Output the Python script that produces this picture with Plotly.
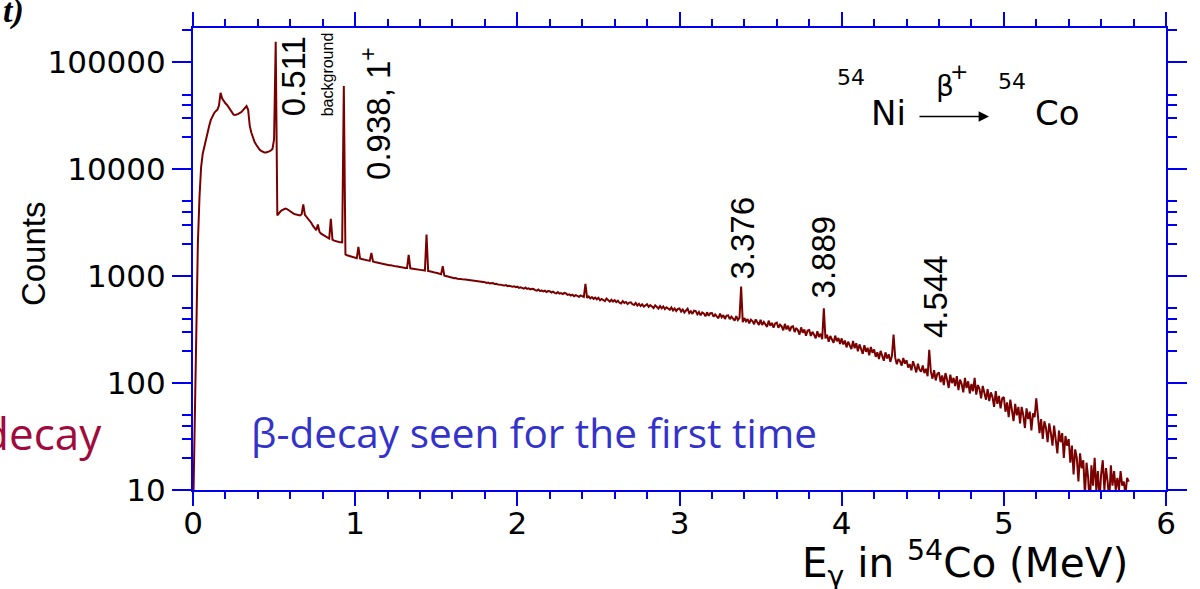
import plotly.graph_objects as go

# ---------------- data ----------------
# gamma-ray counts per 10 keV channel, first channel at 0.00 MeV
channel_start_mev = 0.0
channel_width_mev = 0.01
counts = [
    # 0.00
    5, 40, 600, 2000, 5500, 10500, 14000, 16500, 19000, 22000,
    # 0.10
    25500, 29000, 31500, 33500, 35000, 36000, 39500, 52000, 46000, 43000,
    # 0.20
    41500, 40000, 38000, 35500, 33500, 32500, 32200, 32500, 33000, 33800,
    # 0.30
    34500, 36000, 37500, 39000, 36000, 25500, 22000, 19500, 18000, 17000,
    # 0.40
    16000, 15300, 14900, 14600, 14400, 14400, 14500, 14700, 15000, 15500,
    # 0.50
    19000, 156000, 3700, 3900, 4050, 4150, 4250, 4300, 4250, 4150,
    # 0.60
    4000, 3900, 3850, 3800, 3750, 3700, 3700, 3800, 4700, 3750,
    # 0.70
    3600, 3500, 3350, 3150, 2950, 2800, 2700, 3050, 2600, 2500,
    # 0.80
    2450, 2400, 2350, 2300, 2250, 3450, 2200, 2150, 2120, 2100,
    # 0.90
    2090, 2080, 2070, 60000, 1600, 1570, 1550, 1530, 1510, 1500,
    # 1.00
    1490, 1472, 1880, 1462, 1448, 1438, 1425, 1412, 1400, 1392,
    # 1.10
    1650, 1372, 1360, 1348, 1338, 1322, 1315, 1302, 1295, 1283,
    # 1.20
    1282, 1268, 1266, 1252, 1248, 1236, 1232, 1222, 1218, 1206,
    # 1.30
    1206, 1196, 1194, 1580, 1185, 1176, 1172, 1162, 1160, 1150,
    # 1.40
    1150, 1140, 1136, 1128, 2450, 1118, 1112, 1098, 1096, 1084,
    # 1.50
    1076, 1064, 1058, 1044, 1240, 1010, 1003, 990, 986, 975,
    # 1.60
    968, 957, 962, 948, 951, 944, 936, 940, 931, 926,
    # 1.70
    922, 912, 907, 913, 898, 902, 890, 886, 893, 877,
    # 1.80
    880, 866, 872, 857, 854, 862, 845, 848, 836, 841,
    # 1.90
    834, 822, 817, 826, 808, 812, 803, 799, 806, 790,
    # 2.00
    798, 778, 788, 772, 764, 783, 760, 770, 752, 762,
    # 2.10
    758, 740, 734, 752, 726, 738, 720, 731, 712, 726,
    # 2.20
    724, 704, 716, 698, 692, 710, 686, 694, 680, 698,
    # 2.30
    690, 668, 676, 660, 672, 650, 664, 656, 640, 662,
    # 2.40
    652, 640, 850, 628, 646, 620, 638, 614, 630, 608,
    # 2.50
    628, 596, 612, 604, 586, 618, 590, 578, 602, 580,
    # 2.60
    598, 572, 590, 564, 556, 584, 562, 574, 548, 566,
    # 2.70
    570, 546, 538, 562, 532, 552, 526, 545, 520, 540,
    # 2.80
    548, 516, 536, 522, 504, 534, 510, 498, 526, 500,
    # 2.90
    522, 492, 512, 496, 484, 510, 478, 500, 472, 494,
    # 3.00
    500, 466, 488, 458, 478, 496, 452, 470, 444, 476,
    # 3.10
    472, 440, 462, 430, 458, 448, 422, 460, 426, 450,
    # 3.20
    452, 418, 440, 426, 404, 446, 412, 432, 398, 428,
    # 3.30
    430, 396, 418, 402, 384, 424, 390, 408, 800, 372,
    # 3.40
    406, 378, 398, 362, 392, 380, 356, 394, 364, 350,
    # 3.50
    390, 350, 374, 358, 336, 384, 344, 366, 330, 362,
    # 3.60
    368, 330, 352, 340, 312, 358, 318, 344, 306, 336,
    # 3.70
    340, 300, 328, 312, 284, 332, 296, 318, 278, 310,
    # 3.80
    314, 276, 302, 284, 262, 306, 270, 290, 258, 500,
    # 3.90
    262, 284, 244, 276, 256, 238, 278, 246, 264, 232,
    # 4.00
    262, 230, 250, 216, 244, 226, 208, 248, 212, 236,
    # 4.10
    198, 230, 206, 188, 226, 196, 214, 182, 218, 192,
    # 4.20
    206, 176, 194, 168, 200, 182, 162, 194, 170, 186,
    # 4.30
    158, 180, 285, 174, 150, 168, 160, 146, 172, 152,
    # 4.40
    164, 140, 150, 132, 160, 144, 126, 152, 134, 128,
    # 4.50
    146, 124, 136, 116, 205, 128, 110, 132, 106, 122,
    # 4.60
    126, 102, 118, 96, 124, 108, 90, 120, 100, 112,
    # 4.70
    94, 116, 86, 108, 98, 82, 112, 90, 104, 80,
    # 4.80
    98, 84, 112, 78, 96, 88, 72, 94, 80, 70,
    # 4.90
    88, 68, 82, 74, 60, 84, 64, 76, 58, 72,
    # 5.00
    74, 54, 66, 48, 70, 58, 44, 64, 50, 60,
    # 5.10
    42, 60, 50, 38, 58, 46, 54, 36, 52, 48,
    # 5.20
    72, 50, 34, 46, 30, 44, 38, 28, 42, 34,
    # 5.30
    26, 40, 30, 22, 36, 28, 34, 20, 32, 26,
    # 5.40
    30, 18, 26, 14, 24, 20, 12, 22, 16, 19,
    # 5.50
    9, 18, 13, 7, 17, 11, 20, 10, 15, 8,
    # 5.60
    14, 19, 10, 16, 12, 8, 17, 11, 15, 10,
    # 5.70
    13, 10, 15, 11, 12, 9, 13, 12,
]
energy_mev = [round(channel_start_mev + i * channel_width_mev, 2) for i in range(len(counts))]

x_tick_vals = [0, 1, 2, 3, 4, 5, 6]
x_tick_text = ["0", "1", "2", "3", "4", "5", "6"]
y_tick_vals = [10, 100, 1000, 10000, 100000]
y_tick_text = ["10", "100", "1000", "10000", "100000"]
y_minor_vals = [m * 10 ** d for d in range(1, 6) for m in (2, 3, 4, 5)]

peak_energies = [0.511, 0.938, 3.376, 3.889, 4.544]
peak_texts = ["0.511", "0.938, 1<sup>+</sup>", "3.376", "3.889", "4.544"]

# ---------------- layout helpers ----------------
W, H = 1200, 589
ML, MR, MT, MB = 193, 34, 20, 99
PW, PH = W - ML - MR, H - MT - MB


def px(xp):
    return (xp - ML) / PW


def py(yp):
    return (MT + PH - yp) / PH


AX = "#0000ee"
LINE = "#7a0000"
TICKFONT = dict(family="DejaVu Sans", size=31, color="black")

fig = go.Figure()
fig.add_trace(go.Scatter(
    x=energy_mev, y=counts, mode="lines",
    line=dict(color=LINE, width=2),
    hoverinfo="skip", showlegend=False,
))

fig.update_xaxes(
    range=[0, 6], tickmode="array", tickvals=x_tick_vals, ticktext=x_tick_text,
    ticks="outside", ticklen=14, tickwidth=2, tickcolor=AX,
    showline=True, linecolor=AX, linewidth=2, mirror="ticks",
    showgrid=False, zeroline=False, tickfont=TICKFONT, ticklabelstandoff=-9,
    minor=dict(dtick=0.2, tick0=0, ticks="outside", ticklen=7, tickwidth=2, tickcolor=AX, showgrid=False),
)
fig.update_yaxes(
    type="log", range=[1, 5.322], tickmode="array", tickvals=y_tick_vals, ticktext=y_tick_text,
    ticks="outside", ticklen=19, tickwidth=2, tickcolor=AX,
    showline=True, linecolor=AX, linewidth=2, mirror="ticks",
    showgrid=False, zeroline=False, tickfont=TICKFONT,
    minor=dict(tickmode="array", tickvals=y_minor_vals, ticks="outside", ticklen=9, tickwidth=2, tickcolor=AX, showgrid=False),
)

ann = []
LAB = dict(family="Liberation Sans", size=33, color="black")
# peak labels (rotated)
label_xshift = [18, 31, 2, 0, 5]
label_bottom_px = [112, 177, 278, 297, 337]
for e, t, dx, yb in zip(peak_energies, peak_texts, label_xshift, label_bottom_px):
    ann.append(dict(x=e, xref="x", y=py(yb), yref="paper", text=t, textangle=-90,
                    showarrow=False, xanchor="center", yanchor="bottom", xshift=dx, font=LAB))
ann.append(dict(x=0.511, xref="x", y=py(112), yref="paper", text="background", textangle=-90,
                showarrow=False, xanchor="center", yanchor="bottom", xshift=52,
                font=dict(family="Liberation Sans", size=16, color="black")))

# reaction  54Ni --beta+--> 54Co
RF = dict(family="DejaVu Sans", size=34, color="black")
SF = dict(family="DejaVu Sans", size=22, color="black")
C = dict(xref="paper", yref="paper", showarrow=False, xanchor="center", yanchor="middle")
ann += [
    dict(x=px(851), y=py(70), text="54", font=SF, **C),
    dict(x=px(888), y=py(106), text="Ni", font=RF, **C),
    dict(x=px(945), y=py(80), text="β", font=dict(family="DejaVu Sans", size=28, color="black"), **C),
    dict(x=px(959), y=py(64), text="+", font=SF, **C),
    dict(x=px(1012), y=py(74), text="54", font=SF, **C),
    dict(x=px(1057), y=py(106), text="Co", font=RF, **C),
    dict(x=px(989), y=py(110), xref="paper", yref="paper", text="", showarrow=True,
         ax=-71, ay=0, arrowhead=2, arrowsize=1.3, arrowwidth=1.6, arrowcolor="black"),
]

# axis titles
ann.append(dict(x=px(33), y=py(250), text="Counts", textangle=-90,
                font=dict(family="Liberation Sans", size=33, color="black"), **C))
ann.append(dict(x=px(1130), y=py(565), xref="paper", yref="paper",
                text="E<sub>γ</sub> in <sup>54</sup>Co (MeV)", showarrow=False,
                xanchor="right", yanchor="middle",
                font=dict(family="DejaVu Sans", size=40.5, color="black")))

# overlay texts
ann.append(dict(x=px(104), y=py(432), xref="paper", yref="paper", text="decay", showarrow=False,
                xanchor="right", yanchor="middle",
                font=dict(family="Open Sans", size=44, color="#a00a3c")))
ann.append(dict(x=px(249), y=py(432), xref="paper", yref="paper",
                text="β-decay seen for the first time", showarrow=False,
                xanchor="left", yanchor="middle",
                font=dict(family="Open Sans", size=40.5, color="#3333cc")))
ann.append(dict(x=px(13), y=py(3), text="<b><i>t)</i></b>",
                font=dict(family="Liberation Serif", size=34, color="black"), **C))

fig.update_layout(
    width=W, height=H, autosize=False,
    margin=dict(l=ML, r=MR, t=MT, b=MB, pad=0),
    paper_bgcolor="white", plot_bgcolor="white",
    showlegend=False, annotations=ann,
)

fig.write_html("out.html", config={"displayModeBar": False})
